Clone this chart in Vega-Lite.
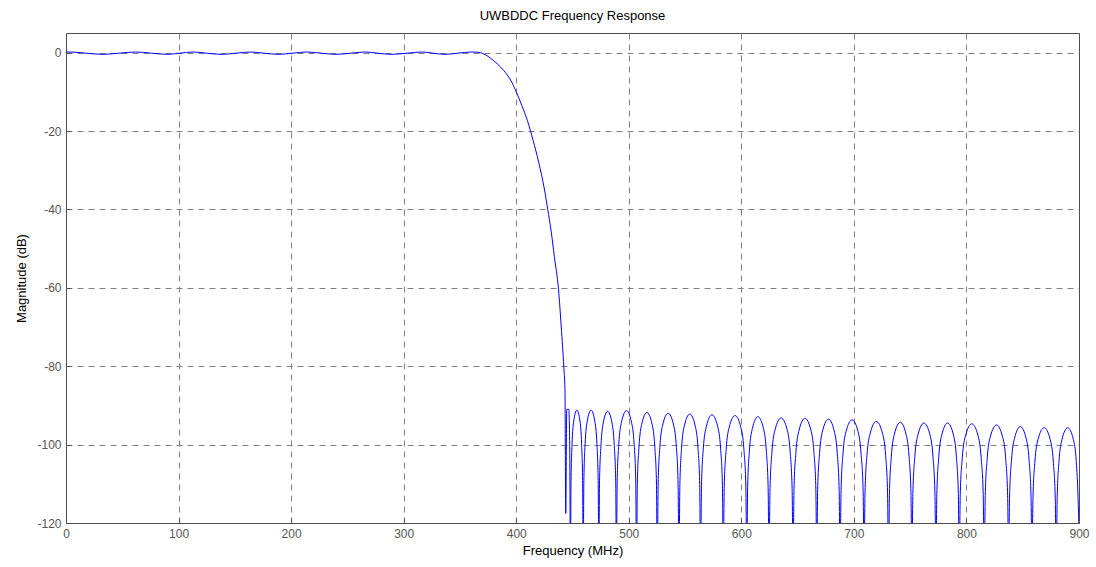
{
  "$schema": "https://vega.github.io/schema/vega-lite/v6.json",
  "autosize": {"type": "none"},
  "padding": {"left": 66, "top": 33, "right": 17, "bottom": 44},
  "width": 1013,
  "height": 490,
  "background": "white",
  "title": {"text": "UWBDDC Frequency Response", "fontSize": 13, "font": "Liberation Sans", "fontWeight": "normal", "color": "black", "anchor": "middle", "baseline": "bottom", "offset": -3},
  "config": {
    "view": {"stroke": "#4d4d4d", "strokeWidth": 1},
    "axis": {"labelFont": "Liberation Sans", "titleFont": "Liberation Sans", "labelFontSize": 12, "titleFontSize": 13, "titleFontWeight": "normal", "titleColor": "black", "labelColor": "#555555", "tickColor": "#4d4d4d", "gridColor": "#808080", "gridOpacity": 1, "gridDash": [6, 5], "gridWidth": 1, "domain": false, "labelFlush": false, "labelOverlap": false}
  },
  "data": {"values": [
    {"f": 0, "db": 0.15}, {"f": 8, "db": 0.1}, {"f": 18, "db": -0.15}, {"f": 33, "db": -0.45}, {"f": 47, "db": -0.15},
    {"f": 62, "db": 0.15}, {"f": 76, "db": -0.15}, {"f": 90, "db": -0.45}, {"f": 101, "db": -0.15},
    {"f": 113, "db": 0.15}, {"f": 125, "db": -0.15}, {"f": 138, "db": -0.45}, {"f": 151, "db": -0.15},
    {"f": 164, "db": 0.15}, {"f": 176, "db": -0.15}, {"f": 189, "db": -0.45}, {"f": 201, "db": -0.15},
    {"f": 214, "db": 0.15}, {"f": 227, "db": -0.15}, {"f": 240, "db": -0.45}, {"f": 253, "db": -0.15},
    {"f": 266, "db": 0.15}, {"f": 277, "db": -0.15}, {"f": 289, "db": -0.45}, {"f": 303, "db": -0.15},
    {"f": 317, "db": 0.15}, {"f": 326, "db": -0.15}, {"f": 336, "db": -0.45}, {"f": 348, "db": -0.15},
    {"f": 360, "db": 0.15}, {"f": 366, "db": 0.1}, {"f": 370, "db": -0.2}, {"f": 373, "db": -0.6},
    {"f": 377, "db": -1.4}, {"f": 383, "db": -2.8}, {"f": 389, "db": -4.6}, {"f": 395, "db": -7.0},
    {"f": 400, "db": -10.0}, {"f": 405, "db": -13.5}, {"f": 410, "db": -17.4}, {"f": 415, "db": -22.4},
    {"f": 420, "db": -28.0}, {"f": 425, "db": -34.8}, {"f": 428, "db": -40}, {"f": 431, "db": -45.5},
    {"f": 434, "db": -52.3}, {"f": 437.6, "db": -60.5}, {"f": 440, "db": -70}, {"f": 442.3, "db": -80.3},
    {"f": 443.3, "db": -86}, {"f": 444.0, "db": -117.6}, {"f": 444.9, "db": -91},
    {"f": 446.7, "db": -91}, {"f": 447.5, "db": -100},
    {"f": 448.2, "db": -130}, {"f": 448.7, "db": -109.2}, {"f": 449.6, "db": -99.9}, {"f": 451.0, "db": -94.2}, {"f": 453.9, "db": -91.2}, {"f": 456.7, "db": -94.2}, {"f": 458.1, "db": -99.9}, {"f": 459.0, "db": -109.2},
    {"f": 459.5, "db": -130}, {"f": 460.1, "db": -109.2}, {"f": 461.2, "db": -99.9}, {"f": 463.0, "db": -94.2}, {"f": 466.5, "db": -91.2}, {"f": 469.9, "db": -94.2}, {"f": 471.7, "db": -99.9}, {"f": 472.8, "db": -109.2},
    {"f": 473.4, "db": -130}, {"f": 474.0, "db": -109.5}, {"f": 475.3, "db": -100.2}, {"f": 477.3, "db": -94.5}, {"f": 481.2, "db": -91.5}, {"f": 485.1, "db": -94.5}, {"f": 487.1, "db": -100.2}, {"f": 488.4, "db": -109.5},
    {"f": 489.0, "db": -130}, {"f": 489.7, "db": -109.3}, {"f": 491.1, "db": -100.0}, {"f": 493.5, "db": -94.3}, {"f": 498.0, "db": -91.3}, {"f": 502.4, "db": -94.3}, {"f": 504.8, "db": -100.0}, {"f": 506.2, "db": -109.3},
    {"f": 506.9, "db": -130}, {"f": 507.6, "db": -109.8}, {"f": 509.1, "db": -100.5}, {"f": 511.5, "db": -94.8}, {"f": 516.1, "db": -91.8}, {"f": 520.7, "db": -94.8}, {"f": 523.1, "db": -100.5}, {"f": 524.6, "db": -109.8},
    {"f": 525.3, "db": -130}, {"f": 526.1, "db": -110.0}, {"f": 527.6, "db": -100.7}, {"f": 530.1, "db": -95.0}, {"f": 535.0, "db": -92.0}, {"f": 539.8, "db": -95.0}, {"f": 542.3, "db": -100.7}, {"f": 543.8, "db": -110.0},
    {"f": 544.6, "db": -130}, {"f": 545.4, "db": -110.2}, {"f": 546.9, "db": -100.9}, {"f": 549.4, "db": -95.2}, {"f": 554.2, "db": -92.2}, {"f": 559.0, "db": -95.2}, {"f": 561.5, "db": -100.9}, {"f": 563.0, "db": -110.2},
    {"f": 563.8, "db": -130}, {"f": 564.6, "db": -110.4}, {"f": 566.2, "db": -101.1}, {"f": 568.9, "db": -95.4}, {"f": 573.9, "db": -92.4}, {"f": 579.0, "db": -95.4}, {"f": 581.6, "db": -101.1}, {"f": 583.2, "db": -110.4},
    {"f": 584.0, "db": -130}, {"f": 584.8, "db": -110.6}, {"f": 586.5, "db": -101.3}, {"f": 589.2, "db": -95.6}, {"f": 594.4, "db": -92.6}, {"f": 599.6, "db": -95.6}, {"f": 602.3, "db": -101.3}, {"f": 604.0, "db": -110.6},
    {"f": 604.8, "db": -130}, {"f": 605.6, "db": -110.9}, {"f": 607.2, "db": -101.6}, {"f": 609.8, "db": -95.9}, {"f": 614.7, "db": -92.9}, {"f": 619.7, "db": -95.9}, {"f": 622.2, "db": -101.6}, {"f": 623.8, "db": -110.9},
    {"f": 624.6, "db": -130}, {"f": 625.5, "db": -111.2}, {"f": 627.2, "db": -101.9}, {"f": 630.0, "db": -96.2}, {"f": 635.3, "db": -93.2}, {"f": 640.7, "db": -96.2}, {"f": 643.4, "db": -101.9}, {"f": 645.1, "db": -111.2},
    {"f": 646.0, "db": -130}, {"f": 646.8, "db": -111.3}, {"f": 648.5, "db": -102.0}, {"f": 651.3, "db": -96.3}, {"f": 656.5, "db": -93.3}, {"f": 661.8, "db": -96.3}, {"f": 664.5, "db": -102.0}, {"f": 666.2, "db": -111.3},
    {"f": 667.0, "db": -130}, {"f": 667.8, "db": -111.5}, {"f": 669.5, "db": -102.2}, {"f": 672.2, "db": -96.5}, {"f": 677.4, "db": -93.5}, {"f": 682.5, "db": -96.5}, {"f": 685.2, "db": -102.2}, {"f": 686.9, "db": -111.5},
    {"f": 687.7, "db": -130}, {"f": 688.6, "db": -111.7}, {"f": 690.3, "db": -102.4}, {"f": 693.0, "db": -96.7}, {"f": 698.4, "db": -93.7}, {"f": 703.7, "db": -96.7}, {"f": 706.4, "db": -102.4}, {"f": 708.2, "db": -111.7},
    {"f": 709.0, "db": -130}, {"f": 709.9, "db": -112.1}, {"f": 711.6, "db": -102.8}, {"f": 714.5, "db": -97.1}, {"f": 719.9, "db": -94.1}, {"f": 725.4, "db": -97.1}, {"f": 728.2, "db": -102.8}, {"f": 729.9, "db": -112.1},
    {"f": 730.8, "db": -130}, {"f": 731.6, "db": -112.3}, {"f": 733.3, "db": -103.0}, {"f": 736.0, "db": -97.3}, {"f": 741.2, "db": -94.3}, {"f": 746.3, "db": -97.3}, {"f": 749.0, "db": -103.0}, {"f": 750.7, "db": -112.3},
    {"f": 751.5, "db": -130}, {"f": 752.4, "db": -112.5}, {"f": 754.1, "db": -103.2}, {"f": 756.9, "db": -97.5}, {"f": 762.2, "db": -94.5}, {"f": 767.6, "db": -97.5}, {"f": 770.3, "db": -103.2}, {"f": 772.0, "db": -112.5},
    {"f": 772.9, "db": -130}, {"f": 773.7, "db": -112.5}, {"f": 775.4, "db": -103.2}, {"f": 778.1, "db": -97.5}, {"f": 783.3, "db": -94.5}, {"f": 788.4, "db": -97.5}, {"f": 791.1, "db": -103.2}, {"f": 792.8, "db": -112.5},
    {"f": 793.6, "db": -130}, {"f": 794.5, "db": -112.7}, {"f": 796.3, "db": -103.4}, {"f": 799.2, "db": -97.7}, {"f": 804.7, "db": -94.7}, {"f": 810.3, "db": -97.7}, {"f": 813.1, "db": -103.4}, {"f": 814.9, "db": -112.7},
    {"f": 815.8, "db": -130}, {"f": 816.7, "db": -113.0}, {"f": 818.4, "db": -103.7}, {"f": 821.2, "db": -98.0}, {"f": 826.7, "db": -95.0}, {"f": 832.1, "db": -98.0}, {"f": 834.9, "db": -103.7}, {"f": 836.6, "db": -113.0},
    {"f": 837.5, "db": -130}, {"f": 838.3, "db": -113.4}, {"f": 840.0, "db": -104.1}, {"f": 842.7, "db": -98.4}, {"f": 847.9, "db": -95.4}, {"f": 853.0, "db": -98.4}, {"f": 855.7, "db": -104.1}, {"f": 857.4, "db": -113.4},
    {"f": 858.2, "db": -130}, {"f": 859.1, "db": -113.7}, {"f": 860.8, "db": -104.4}, {"f": 863.6, "db": -98.7}, {"f": 869.0, "db": -95.7}, {"f": 874.4, "db": -98.7}, {"f": 877.2, "db": -104.4}, {"f": 878.9, "db": -113.7},
    {"f": 879.8, "db": -130}, {"f": 880.6, "db": -113.7}, {"f": 882.2, "db": -104.4}, {"f": 884.9, "db": -98.7}, {"f": 889.9, "db": -95.7}, {"f": 895.0, "db": -98.7}, {"f": 897.6, "db": -104.4}, {"f": 899.2, "db": -113.7},
    {"f": 900, "db": -122}
  ]},
  "mark": {"type": "line", "color": "#0000ff", "strokeWidth": 1, "clip": true, "interpolate": "monotone"},
  "encoding": {
    "x": {"field": "f", "type": "quantitative", "title": "Frequency (MHz)",
      "scale": {"domain": [0, 900], "nice": false, "zero": false},
      "axis": {"values": [0, 100, 200, 300, 400, 500, 600, 700, 800, 900], "tickSize": -5, "labelPadding": 10, "titlePadding": 5, "labelExpr": "datum.value + ''",
        "gridOpacity": {"condition": {"test": "datum.value == 0 || datum.value == 900", "value": 0}, "value": 1}}},
    "y": {"field": "db", "type": "quantitative", "title": "Magnitude (dB)",
      "scale": {"domain": [-120, 5], "nice": false, "zero": false},
      "axis": {"values": [-120, -100, -80, -60, -40, -20, 0], "tickSize": -5, "labelPadding": 10, "titlePadding": 8, "labelExpr": "datum.value + ''",
        "gridOpacity": {"condition": {"test": "datum.value == -120", "value": 0}, "value": 1}}}
  }
}
